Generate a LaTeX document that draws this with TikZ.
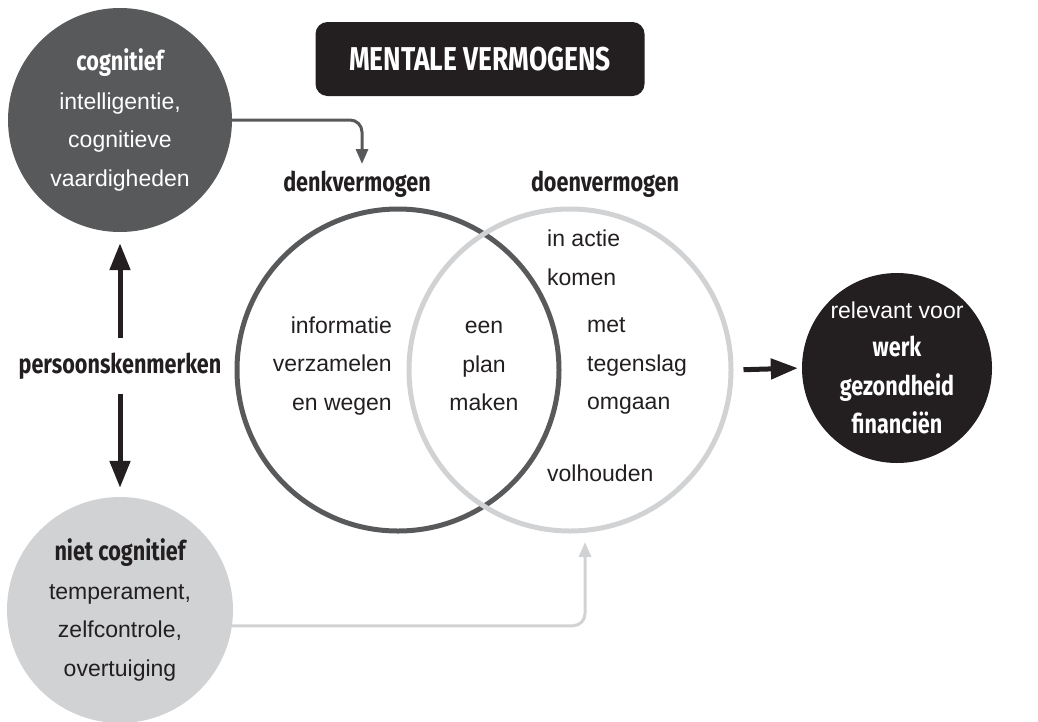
\documentclass[tikz,border=0pt]{standalone}
\usepackage{fontspec}
\setmainfont{Liberation Sans}
\newfontfamily\kopfont[FakeStretch=0.8]{Fira Sans}
\usetikzlibrary{positioning,arrows.meta}
\definecolor{mvDark}{RGB}{88,89,91}
\definecolor{mvLight}{RGB}{209,210,212}
\definecolor{mvBlack}{RGB}{35,31,32}
\newcommand{\kopbf}{\fontsize{27}{38.5}\selectfont\kopfont\bfseries}
\tikzset{
    base/.style={font=\fontsize{23}{38.5}\selectfont, align=center, inner sep=0pt, text=mvBlack},
    kop/.style={font=\kopbf, inner sep=0pt, text=mvBlack},
    bol/.style={base, circle, minimum size=224pt},
    venn/.style={circle, draw, line width=5pt, minimum size=322pt, inner sep=0pt},
    titel/.style={rectangle, rounded corners=12pt, fill=mvBlack, text=white,
                  minimum width=329pt, minimum height=74pt,
                  font=\fontsize{33}{33}\selectfont\kopfont\bfseries},
    bigarrow/.style={-{Triangle[length=27pt,width=20pt]}, line width=5pt, color=mvBlack},
    flow/.style={-{Triangle[length=15pt,width=12pt]}, line width=3pt, rounded corners=12pt}
}
\begin{document}
\begin{tikzpicture}[x=1pt,y=-1pt]
  \useasboundingbox (0,0) rectangle (1038,721);
  % persoonskenmerken
  \node[bol, fill=mvDark, text=white] (cog) at (120,120)
    {{\kopbf cognitief}\\intelligentie,\\cognitieve\\vaardigheden};
  \node[bol, fill=mvLight, minimum size=226pt] (ncog) at (120,610)
    {{\kopbf niet cognitief}\\temperament,\\zelfcontrole,\\overtuiging};
  \node[kop, inner ysep=15pt] (persoon) at (120,366) {persoonskenmerken};
  \draw[bigarrow, shorten >=11pt] (persoon.north) -- (cog.south);
  \draw[bigarrow, shorten >=9pt] (persoon.south) -- (ncog.north);

  % titel
  \node[titel] (titel) at (480,59) {MENTALE VERMOGENS};

  % venn
  \node[venn, draw=mvDark] (denk) at (398,370) {};
  \node[venn, draw=mvLight] (doen) at (570,370) {};
  \node[kop] (denklabel) at (357,184) {denkvermogen};
  \node[kop] (doenlabel) at (605,184) {doenvermogen};

  \node[base, anchor=east, align=right] (info) at (392,366) {informatie\\verzamelen\\en wegen};
  \node[base] (plan) at (484,366) {een\\plan\\maken};
  \node[base, anchor=west, align=left] (tegen) at (587,366) {met\\tegenslag\\omgaan};
  \node[base, anchor=west, align=left] (actie) at (547,258) {in actie\\komen};
  \node[base, anchor=west] (volh) at (547,473) {volhouden};

  % uitkomst
  \node[bol, fill=mvBlack, text=white, minimum size=190pt] (rel) at (897,368)
    {relevant voor\\{\kopbf werk}\\{\kopbf gezondheid}\\{\kopbf financiën}};
  \draw[bigarrow, shorten <=10pt, shorten >=4pt] (doen.east) -- (rel.west);

  % invloed
  \coordinate (denkin) at (362,164);
  \coordinate (doenin) at (585,542);
  \draw[flow, color=mvDark] (cog.east) -| (denkin);
  \draw[flow, color=mvLight] (ncog.-8) -| (doenin);
\end{tikzpicture}
\end{document}
